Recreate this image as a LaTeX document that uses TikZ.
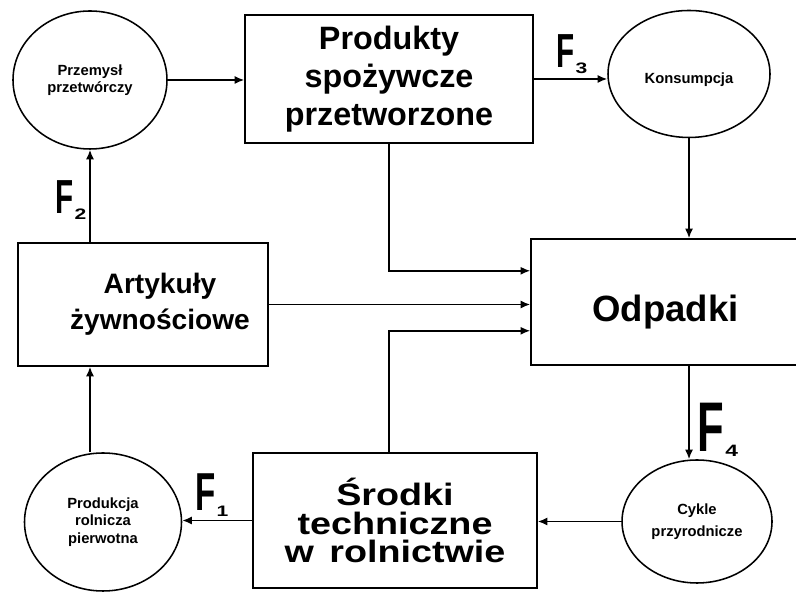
\documentclass[tikz,border=0pt]{standalone}
\usepackage{fontspec}
\setmainfont{Liberation Sans}
\setsansfont{Liberation Sans}
\newfontfamily\widesans[FakeStretch=1.22]{Liberation Sans}
\usepackage{graphicx}
\usetikzlibrary{shapes.geometric,arrows.meta}

\newcommand{\flow}[3]{%
  \scalebox{0.62}[1]{\fontsize{#1}{#1}\selectfont F}%
  \kern0.5pt\raisebox{-4pt}{\scalebox{1.25}[0.9]{\fontsize{#2}{#2}\selectfont #3}}}

\begin{document}
\begin{tikzpicture}[font=\sffamily\bfseries,line width=1.1pt,
  >={Latex[length=2.4mm,width=2mm]},
  bigbox/.style={draw,rectangle,inner sep=0pt,align=center,
    font=\sffamily\bfseries\fontsize{23}{27}\selectfont},
  cycle/.style={draw,ellipse,inner sep=0pt,align=center,
    font=\sffamily\bfseries\fontsize{10.5}{12.5}\selectfont},
  flowlab/.style={inner sep=0pt}]
\useasboundingbox (0,0) rectangle (19.9,14.85);

\node[cycle,minimum width=3.85cm,minimum height=3.45cm] (przemysl) at (2.25,12.85) {Przemysł\\przetwórczy};
\node[bigbox,minimum width=7.2cm,minimum height=3.2cm] (produkty) at (9.725,12.875) {Produkty\\spożywcze\\przetworzone};
\node[cycle,minimum width=4.05cm,minimum height=3.175cm] (konsumpcja) at (17.225,13.0) {\raisebox{-7pt}[0pt][0pt]{Konsumpcja}};
\node[bigbox,minimum width=6.25cm,minimum height=3.075cm,
  font=\sffamily\bfseries\fontsize{20}{25}\selectfont] (artykuly) at (3.575,7.2375)
  {\hspace*{0.85cm}\begin{tabular}{@{}c@{}}Artykuły\\żywnościowe\end{tabular}};
\node[bigbox,minimum width=6.725cm,minimum height=3.15cm,
  font=\sffamily\bfseries\fontsize{26}{26}\selectfont] (odpadki) at (16.6375,7.3) {\raisebox{-0.5cm}[0pt][0pt]{Odpadki}};
\node[cycle,minimum width=3.925cm,minimum height=3.45cm] (produkcja) at (2.575,1.8) {Produkcja\\rolnicza\\pierwotna};
\node[bigbox,minimum width=7.1cm,minimum height=3.375cm,
  font=\widesans\bfseries\fontsize{22}{20.5}\selectfont] (srodki) at (9.875,1.8375) {Środki\\techniczne\\w\enspace rolnictwie};
\node[cycle,minimum width=3.75cm,minimum height=3.075cm,
  font=\sffamily\bfseries\fontsize{10.5}{16}\selectfont] (cykle) at (17.425,1.8125) {Cykle\\przyrodnicze};

\draw[->] (przemysl.east) -- (przemysl.east -| produkty.west);
\draw[->] (produkty.east) -- (produkty.east -| konsumpcja.west);
\draw[->] (konsumpcja.south) -- (konsumpcja.south |- odpadki.north);
\draw[->] (przemysl.south |- artykuly.north) -- (przemysl.south);
\draw[->] (przemysl.south |- produkcja.north) -- (przemysl.south |- artykuly.south);
\draw[->] (produkty.south) |- ([yshift=0.78cm]odpadki.west);
\draw[->] (artykuly.east) -- (artykuly.east -| odpadki.west);
\draw[->] (produkty.south |- srodki.north) |- ([yshift=-0.72cm]odpadki.west);
\draw[->] (konsumpcja.south |- odpadki.south) -- (konsumpcja.south |- cykle.north);
\draw[->] (cykle.west) -- (cykle.west -| srodki.east);
\draw[->] (srodki.west) -- (srodki.west -| produkcja.east);

\node[flowlab] (f1) at (5.3,2.475) {\flow{38}{12}{1}};
\node[flowlab] (f2) at (1.78,9.85) {\flow{34}{12}{2}};
\node[flowlab] (f3) at (14.3,13.5) {\flow{34}{12}{3}};
\node[flowlab] (f4) at (17.95,4.1) {\flow{50}{13}{4}};
\end{tikzpicture}
\end{document}
